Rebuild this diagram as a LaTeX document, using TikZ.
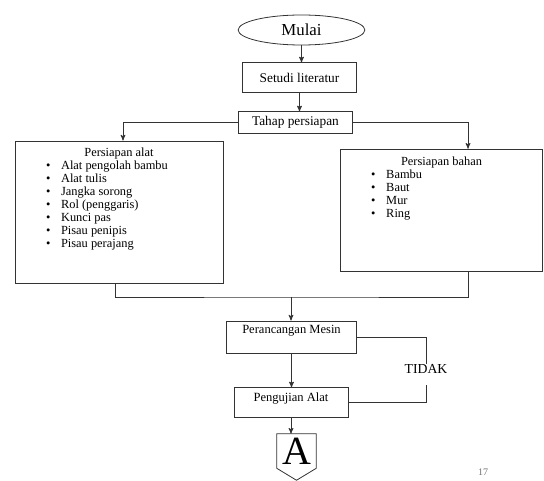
\documentclass[tikz,border=0pt]{standalone}
\usepackage{fontspec}
\setmainfont{Liberation Serif}
\usetikzlibrary{calc}
\usetikzlibrary{arrows}
\usetikzlibrary{shapes.geometric}

\tikzset{
  garis/.style={draw=black!80, line width=0.6pt},
  panah/.style={garis, ->, >=stealth'},
  kotak/.style={garis, rectangle, inner xsep=1pt, font=\fontsize{9.4}{11}\selectfont},
}
% isi kotak persiapan
\newcommand{\isikotak}[5]{%
  \begin{minipage}[t][#2][t]{#1}
    \fontsize{9.3}{9.75}\selectfont
    \vspace*{#3}\centering #4\par
    \raggedright
    \begin{tabular}{@{\hspace{23.3pt}}c@{\hspace{8pt}}l@{}}
      #5
    \end{tabular}
  \end{minipage}}

\begin{document}
\begin{tikzpicture}[x=0.75pt, y=-0.75pt]
\useasboundingbox (0,0) rectangle (544,481);

\node[garis, ellipse, minimum width=95pt, minimum height=22.5pt, inner sep=0pt,
  font=\fontsize{12.6}{14}\selectfont] (mulai) at (301.5,30) {Mulai};
\node[kotak, minimum width=86pt, minimum height=22pt, font=\fontsize{10}{12}\selectfont]
  (setudi) at (299.5,77.5) {Setudi literatur};
\node[kotak, minimum width=86pt, minimum height=16pt, font=\fontsize{10}{12}\selectfont]
  (tahap) at (295.5,122.5) {Tahap persiapan};

\node[garis, inner sep=0pt] (alat) at (119,212) {\isikotak{156pt}{106.5pt}{5pt}{Persiapan alat}{%
  \textbullet & Alat pengolah bambu\\
  \textbullet & Alat tulis\\
  \textbullet & Jangka sorong\\
  \textbullet & Rol (penggaris)\\
  \textbullet & Kunci pas\\
  \textbullet & Pisau penipis\\
  \textbullet & Pisau perajang}};
\node[garis, inner sep=0pt] (bahan) at (441.5,210.5) {\isikotak{152pt}{92pt}{6pt}{Persiapan bahan}{%
  \textbullet & Bambu\\
  \textbullet & Baut\\
  \textbullet & Mur\\
  \textbullet & Ring}};

\node[kotak, minimum width=97pt, inner ysep=1pt, text height=8.5pt, text depth=13.5pt]
  (rancang) at (291.5,337) {Perancangan Mesin};
\node[kotak, minimum width=85.5pt, inner ysep=1pt, text height=9pt, text depth=11pt]
  (uji) at (291,402.5) {Pengujian Alat};
\node[inner sep=0pt, text height=7pt, text depth=8.75pt, font=\fontsize{10.3}{12}\selectfont]
  (tidak) at (426,374.5) {TIDAK};

\node[minimum width=29.25pt, minimum height=25.5pt, inner sep=0pt,
  font=\fontsize{30}{30}\selectfont] (conA) at (296.5,451) {A};
\draw[garis] (conA.north west) -- (conA.south west) -- ($(conA.south)+(0,12)$)
  -- (conA.south east) -- (conA.north east) -- cycle;

\node[text=black!55, font=\fontsize{7.5}{9}\selectfont] (hal) at (483,472) {17};

% alur
\draw[panah] (mulai.south) -- (mulai.south |- setudi.north);
\draw[panah] (setudi.south) -- (setudi.south |- tahap.north);
\draw[panah] (tahap.west) -| ([xshift=3pt]alat.north);
\draw[panah] (tahap.east) -| ([xshift=19.9pt]bahan.north);
\coordinate (gabung) at (291,297);
\draw[garis] ([xshift=-3pt]alat.south) |- (gabung) -| ([xshift=19.9pt]bahan.south);
\draw[panah] (gabung) -- (gabung |- rancang.north);
\draw[panah] (rancang.south) -- (rancang.south |- uji.north);
\draw[panah] (uji.south) -- (uji.south |- conA.north);
\draw[garis] (rancang.east) -| (tidak.north);
\draw[garis] (tidak.south) |- (uji.east);
\end{tikzpicture}
\end{document}
